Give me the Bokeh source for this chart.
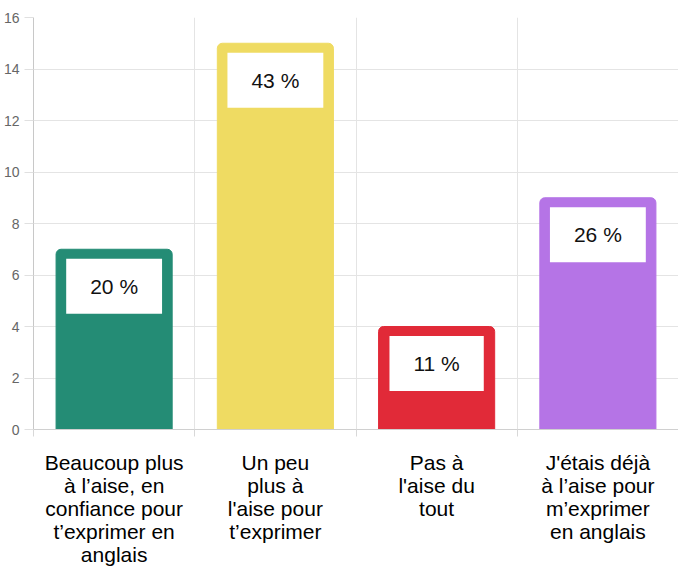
from bokeh.plotting import figure
from bokeh.models import Range1d, FixedTicker, ColumnDataSource
from bokeh.embed import file_html
from bokeh.resources import INLINE
from bokeh.core.properties import value

categories = [
    "Beaucoup plus\nà l’aise, en\nconfiance pour\nt’exprimer en\nanglais",
    "Un peu\nplus à\nl'aise pour\nt’exprimer",
    "Pas à\nl'aise du\ntout",
    "J'étais déjà\nà l’aise pour\nm’exprimer\nen anglais",
]
counts = [7, 15, 4, 9]
percent_labels = ["20 %", "43 %", "11 %", "26 %"]
colors = ["#248C75", "#EFDB62", "#E12A38", "#B574E6"]
y_ticks = [0, 2, 4, 6, 8, 10, 12, 14, 16]

n = len(categories)
xs = [i + 0.5 for i in range(n)]
src = ColumnDataSource(dict(x=xs, top=counts, color=colors, label=percent_labels))

p = figure(width=678, height=568, output_backend="svg", toolbar_location=None,
           x_range=Range1d(0, n), y_range=Range1d(0, 16),
           min_border_top=17, min_border_right=0, min_border_left=0, min_border_bottom=0)
p.outline_line_color = None
p.background_fill_color = "white"
p.border_fill_color = "white"

p.vbar(x="x", top="top", bottom=0, width=0.72, source=src, fill_color="color",
       line_color="color", border_radius=(5, 5, 0, 0))

p.text(x="x", y="top", text="label", source=src, y_offset=37,
       text_align="center", text_baseline="middle",
       text_font=value("Liberation Sans"), text_font_size="21px", text_color="#111111",
       background_fill_color="white", padding=(24, 16))

# y axis
p.yaxis.ticker = FixedTicker(ticks=y_ticks)
p.yaxis.axis_line_color = "#c8c8c8"
p.yaxis.major_tick_line_color = "#e0e0e0"
p.yaxis.major_tick_out = 9
p.yaxis.major_tick_in = 0
p.yaxis.minor_tick_line_color = None
p.yaxis.major_label_standoff = 5
p.yaxis.major_label_text_font = "Liberation Sans"
p.yaxis.major_label_text_font_size = "14px"
p.yaxis.major_label_text_color = "#666666"

# x axis
p.xaxis.ticker = FixedTicker(ticks=xs, minor_ticks=list(range(n + 1)))
p.xaxis.major_label_overrides = {x: c for x, c in zip(xs, categories)}
p.xaxis.axis_line_color = "#d0d0d0"
p.xaxis.major_tick_line_color = None
p.xaxis.major_tick_out = 0
p.xaxis.major_tick_in = 0
p.xaxis.minor_tick_line_color = "#d8d8d8"
p.xaxis.minor_tick_out = 7
p.xaxis.minor_tick_in = 0
p.xaxis.major_label_standoff = 14
p.xaxis.major_label_text_font = "Liberation Sans"
p.xaxis.major_label_text_font_size = "21px"
p.xaxis.major_label_text_line_height = 1.0
p.xaxis.major_label_text_color = "#000000"

p.xgrid.ticker = FixedTicker(ticks=list(range(n + 1)))
p.xgrid.grid_line_color = "#e4e4e4"
p.ygrid.ticker = FixedTicker(ticks=y_ticks)
p.ygrid.grid_line_color = "#e4e4e4"

open("out.html", "w").write(file_html(p, INLINE))
